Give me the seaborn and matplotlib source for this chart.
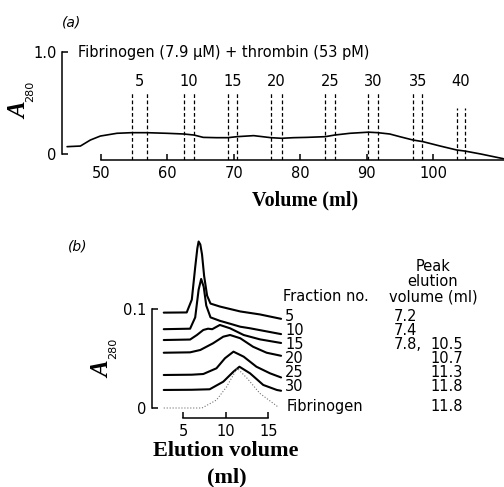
import matplotlib
matplotlib.use("Agg")
import matplotlib.pyplot as plt
import seaborn as sns

# ---- panel (a): column elution profile ----
vol_a = [44.9, 46.9, 48.4, 49.9, 52.4, 54.6, 56.9, 59.9, 62.5, 64.0, 65.4, 67.4,
         69.1, 70.5, 73.0, 75.6, 77.2, 79.0, 81.0, 83.8, 85.2, 87.5, 90.3, 91.7,
         93.5, 95.0, 97.0, 98.5, 101.1, 103.6, 104.8, 107.2, 110.6]
a280_a = [0.072, 0.078, 0.137, 0.176, 0.203, 0.209, 0.209, 0.203, 0.196, 0.186, 0.163, 0.160,
          0.160, 0.170, 0.180, 0.160, 0.154, 0.160, 0.163, 0.170, 0.186, 0.203, 0.214, 0.209,
          0.196, 0.170, 0.137, 0.121, 0.078, 0.039, 0.029, 0.0, -0.046]

fraction_marks = [5, 10, 15, 20, 25, 30, 35, 40]
fraction_left = [54.6, 62.5, 69.1, 75.6, 83.8, 90.2, 97.0, 103.6]
fraction_right = [56.9, 64.0, 70.5, 77.2, 85.2, 91.7, 98.4, 104.8]
fraction_top = [0.61, 0.61, 0.61, 0.61, 0.61, 0.61, 0.61, 0.45]

# ---- panel (b): re-chromatography of fractions ----
vol_f5 = [2.7, 5.4, 6.0, 6.4, 6.65, 6.8, 7.0, 7.2, 7.45, 7.8, 8.2, 9.3, 11.7, 14.0, 16.5]
abs_f5 = [0.0968, 0.097, 0.110, 0.143, 0.162, 0.169, 0.166, 0.156, 0.134, 0.114, 0.106, 0.103, 0.098, 0.095, 0.0905]
vol_f10 = [2.7, 5.8, 6.4, 6.8, 7.1, 7.4, 7.7, 8.2, 9.3, 10.4, 11.7, 12.8, 16.5]
abs_f10 = [0.080, 0.0805, 0.092, 0.120, 0.131, 0.123, 0.104, 0.092, 0.0885, 0.0858, 0.0825, 0.081, 0.075]
vol_f15 = [2.7, 5.8, 6.6, 7.35, 7.9, 8.4, 9.3, 10.5, 12.1, 14.0, 16.5]
abs_f15 = [0.069, 0.0695, 0.0741, 0.0792, 0.0805, 0.0800, 0.0843, 0.0809, 0.0741, 0.0697, 0.066]
vol_f20 = [2.7, 5.8, 7.0, 8.5, 9.7, 10.5, 11.7, 13.2, 14.8, 16.5]
abs_f20 = [0.0561, 0.0565, 0.0589, 0.0657, 0.0724, 0.0741, 0.0708, 0.0622, 0.0561, 0.053]
vol_f25 = [2.7, 6.0, 7.35, 8.9, 9.9, 10.9, 12.1, 13.6, 15.2, 16.5]
abs_f25 = [0.0335, 0.0338, 0.0345, 0.0403, 0.0505, 0.0572, 0.0521, 0.0419, 0.0352, 0.031]
vol_f30 = [2.7, 6.0, 8.1, 9.7, 10.9, 11.6, 12.85, 14.4, 16.0, 16.5]
abs_f30 = [0.0183, 0.0185, 0.019, 0.0267, 0.0369, 0.0419, 0.0352, 0.0234, 0.0183, 0.0175]
vol_fib = [2.7, 7.2, 8.9, 10.1, 11.1, 11.35, 12.5, 14.0, 16.2]
abs_fib = [0.0, 0.0, 0.0081, 0.0216, 0.0369, 0.0403, 0.0302, 0.0149, 0.0007]

row_labels = ["5", "10", "15", "20", "25", "30", "Fibrinogen"]
peak_volumes = [["7.2"], ["7.4"], ["7.8,", "10.5"], ["10.7"], ["11.3"], ["11.8"], ["11.8"]]

sns.set_style("ticks")
plt.rcParams["font.family"] = ["DejaVu Sans"]
plt.rcParams["axes.linewidth"] = 1.1
plt.rcParams["text.color"] = "black"
plt.rcParams["axes.edgecolor"] = "black"
plt.rcParams["xtick.color"] = "black"
plt.rcParams["ytick.color"] = "black"

W, H = 504, 487
FS = 10.5
fig = plt.figure(figsize=(W / 100, H / 100), dpi=100)


def fxy(px, py):
    return px / W, 1 - py / H


def tidy(ax):
    sns.despine(ax=ax)
    ax.tick_params(direction="in", length=4, width=1.1, colors="black", labelsize=FS, pad=4)
    ax.set_xlabel("")
    ax.set_ylabel("")


# panel (a)
ax_a = fig.add_axes([62 / W, 1 - 160 / H, (504 - 62) / W, 110 / H])
ax_a.set_xlim(44.13, 110.7)
ax_a.set_ylim(-0.0588, 1.0196)
sns.lineplot(x=vol_a, y=a280_a, ax=ax_a, color="black", lw=1.2, sort=False)
for lo, hi, top, lab in zip(fraction_left, fraction_right, fraction_top, fraction_marks):
    ax_a.vlines([lo, hi], -0.0588, top, colors="black", lw=0.9, linestyles=(0, (3, 2)))
    ax_a.text((lo + hi) / 2, 0.706, str(lab), ha="center", va="center", fontsize=FS)
ax_a.set_xticks([50, 60, 70, 80, 90, 100])
ax_a.set_yticks([0, 1.0])
ax_a.set_yticklabels(["0", "1.0"])
tidy(ax_a)
ax_a.spines["left"].set_bounds(0, 1.0)
ax_a.spines["bottom"].set_bounds(50, 110.7)

# panel (b)
ax_b = fig.add_axes([151.5 / W, 1 - 418.3 / H, (285 - 151.5) / W, (418.3 - 236) / H])
ax_b.set_xlim(1.26, 16.96)
ax_b.set_ylim(-0.01046, 0.1746)
for xs, ys in [(vol_f5, abs_f5), (vol_f10, abs_f10), (vol_f15, abs_f15),
               (vol_f20, abs_f20), (vol_f25, abs_f25), (vol_f30, abs_f30)]:
    sns.lineplot(x=xs, y=ys, ax=ax_b, color="black", lw=1.5, sort=False)
sns.lineplot(x=vol_fib, y=abs_fib, ax=ax_b, color="0.45", lw=0.8, ls=":", sort=False)
ax_b.set_xticks([5, 10, 15])
ax_b.set_yticks([0, 0.1])
ax_b.set_yticklabels(["0", "0.1"])
tidy(ax_b)
ax_b.spines["left"].set_bounds(0, 0.1)
ax_b.spines["bottom"].set_bounds(5, 15)

# texts
fig.text(*fxy(72, 22), "(a)", fontsize=10, style="italic", ha="center", va="center")
fig.text(*fxy(78, 53), "Fibrinogen (7.9 \u03bcM) + thrombin (53 pM)", fontsize=FS, ha="left", va="center")
fig.text(*fxy(305, 200), "Volume (ml)", family="Liberation Serif", weight="bold", fontsize=14.5,
         ha="center", va="center")
fig.text(*fxy(78, 247), "(b)", fontsize=10, style="italic", ha="center", va="center")
fig.text(*fxy(226, 451), "Elution volume", family="Liberation Serif", weight="bold", fontsize=16,
         ha="center", va="center")
fig.text(*fxy(227, 477), "(ml)", family="Liberation Serif", weight="bold", fontsize=16,
         ha="center", va="center")

for (ax_px, ay_px), (sx_px, sy_px) in [((20, 111), (30, 91)), ((103, 370), (113, 348))]:
    fig.text(*fxy(ax_px, ay_px), "A", family="Liberation Serif", weight="bold", style="italic",
             fontsize=18, rotation=90, ha="center", va="center")
    fig.text(*fxy(sx_px, sy_px), "280", fontsize=8, rotation=90, ha="center", va="center")

fig.text(*fxy(283, 296.7), "Fraction no.", fontsize=FS, ha="left", va="center")
fig.text(*fxy(433, 281.7), "Peak\nelution\nvolume (ml)", fontsize=FS, ha="center", va="center",
         linespacing=1.0)
for i, (lab, peaks) in enumerate(zip(row_labels, peak_volumes)):
    y = 316.7 + 13.9 * i if i < 6 else 406.7
    fig.text(*fxy(285 if i < 6 else 287, y), lab, fontsize=FS, ha="left", va="center")
    for p in peaks:
        if float(p.rstrip(",")) < 10:
            fig.text(*fxy(393.3, y), p, fontsize=FS, ha="left", va="center")
        else:
            fig.text(*fxy(463.3, y), p, fontsize=FS, ha="right", va="center")

fig.savefig("out.png", dpi=100)
